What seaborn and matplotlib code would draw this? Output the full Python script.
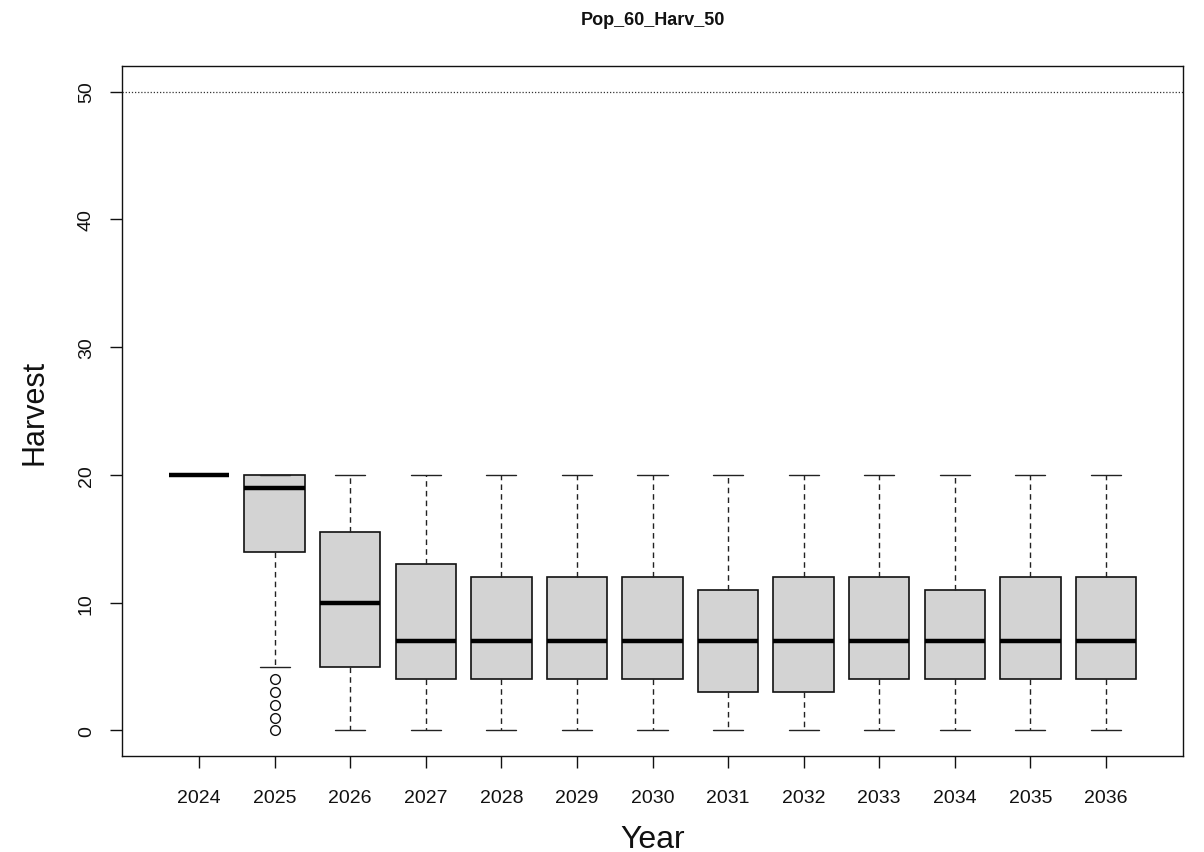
import numpy as np
import pandas as pd
import matplotlib
matplotlib.use("Agg")
import matplotlib.pyplot as plt
import seaborn as sns

# Five-number summaries (per year)
years = ["2024", "2025", "2026", "2027", "2028", "2029", "2030",
         "2031", "2032", "2033", "2034", "2035", "2036"]
whisker_low = [20, 5, 0, 0, 0, 0, 0, 0, 0, 0, 0, 0, 0]
q1 = [20, 14, 5, 4, 4, 4, 4, 3, 3, 4, 4, 4, 4]
median = [20, 19, 10, 7, 7, 7, 7, 7, 7, 7, 7, 7, 7]
q3 = [20, 20, 15.5, 13, 12, 12, 12, 11, 12, 12, 11, 12, 12]
whisker_high = [20, 20, 20, 20, 20, 20, 20, 20, 20, 20, 20, 20, 20]
outliers = {"2025": [0, 1, 2, 3, 4]}
target = 50

# Build observations whose quartiles reproduce the summaries
rows = []
for i, yr in enumerate(years):
    out = outliers.get(yr, [])
    if out:
        vals = (out + [whisker_low[i]] + [q1[i]] * 5 + [median[i]] * 7
                + [q3[i]] * 11)
    else:
        vals = [whisker_low[i], q1[i], q1[i], median[i], q3[i], q3[i],
                whisker_high[i]]
    for v in vals:
        rows.append({"Year": yr, "Harvest": v})
df = pd.DataFrame(rows)

sns.set_theme(style="white")
plt.rcParams["font.family"] = ["Liberation Sans", "DejaVu Sans"]

fig = plt.figure(figsize=(12.04, 8.53), dpi=100)
ax = fig.add_axes([122 / 1204, 1 - 757 / 853, (1183 - 122) / 1204, (757 - 67) / 853])

sns.boxplot(
    data=df, x="Year", y="Harvest", order=years, ax=ax,
    color="#D3D3D3", linecolor="#111111", saturation=1, width=0.8,
    linewidth=1.2, whis=1.5,
    medianprops=dict(color="black", linewidth=3.2, solid_capstyle="butt"),
    whiskerprops=dict(color="#222222", linewidth=1.0, linestyle=(0, (4, 3))),
    capprops=dict(color="#222222", linewidth=1.0),
    flierprops=dict(marker="o", markerfacecolor="white", markeredgecolor="#111111",
                    markersize=7, markeredgewidth=1.0),
)

ax.axhline(target, color="#333333", linestyle=(0, (1, 1.5)), linewidth=0.9)

ax.set_xlim(-1.02, len(years) - 1 + 1.02)
ax.set_ylim(-2, 52)
ax.set_yticks([0, 10, 20, 30, 40, 50])
ax.set_yticklabels(["0", "10", "20", "30", "40", "50"], rotation=90, va="center")
ax.set_xticks(range(len(years)))
ax.set_xticklabels(years)

for s in ax.spines.values():
    s.set_visible(True)
    s.set_color("#111111")
    s.set_linewidth(1.0)

ax.tick_params(axis="both", which="major", direction="out", length=8.6, width=1.0,
               color="#111111", labelsize=14, labelcolor="#111111",
               bottom=True, left=True)
ax.tick_params(axis="x", pad=15)
ax.tick_params(axis="y", pad=11)

ax.set_xlabel("Year", fontsize=23, color="#111111")
ax.set_ylabel("Harvest", fontsize=22, color="#111111")
ax.xaxis.set_label_coords(0.5, -0.098)
ax.yaxis.set_label_coords(-0.0687, 0.5)

ax.text(0.5, 1.068, "Pop_60_Harv_50", transform=ax.transAxes, ha="center",
        va="center", fontsize=13, fontweight="bold", color="#111111",
        family=["Liberation Sans Narrow", "Liberation Sans", "DejaVu Sans"])

fig.savefig("out.png", dpi=100)
